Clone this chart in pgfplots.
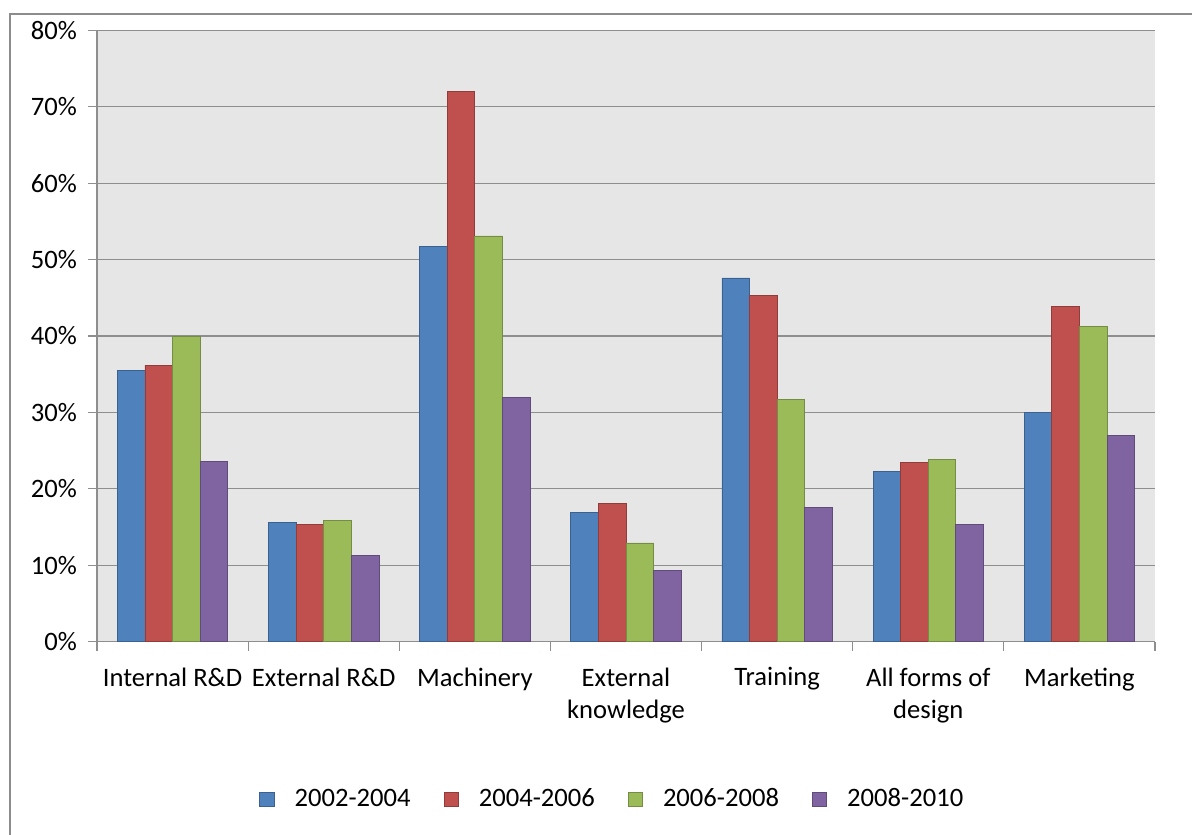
\documentclass[border=0pt]{standalone}
\usepackage{fontspec}
\setmainfont{Carlito}
\usepackage{pgfplots}
\pgfplotsset{compat=1.18}
\definecolor{s1}{HTML}{4F81BD}
\definecolor{s2}{HTML}{C0504D}
\definecolor{s3}{HTML}{9BBB59}
\definecolor{s4}{HTML}{8064A2}
\definecolor{gridgray}{HTML}{8E8E8E}
\definecolor{plotbg}{HTML}{E6E6E6}
\definecolor{framegray}{HTML}{8C8C8C}

\begin{document}
\begin{tikzpicture}
  % 1 px of the reference = 0.5pt
  \useasboundingbox (0pt,0pt) rectangle (596pt,417pt);
  \fill[white] (0pt,0pt) rectangle (596pt,417pt);
  \draw[framegray, line width=1pt] (5pt,-5pt) -- (5pt,410pt) -- (610pt,410pt);
  \begin{axis}[
    at={(48.5pt,96.25pt)}, anchor=south west,
    scale only axis,
    width=529pt, height=305.5pt,
    font=\fontsize{13.3}{16}\selectfont,
    ybar=0pt, bar width=13.8pt,
    xmin=-0.5, xmax=6.5,
    ymin=0, ymax=80,
    ytick={0,10,...,80},
    yticklabel={\pgfmathprintnumber[assume math mode=true]{\tick}\%},
    xtick={0,...,6},
    xticklabels={Internal R\&D, External R\&D, Machinery, {External\\knowledge}, Training, {All forms of\\design}, Marketing},
    xticklabel style={align=center, yshift=-5pt},
    yticklabel style={xshift=-2pt},
    minor xtick={-0.5,0.5,...,6.5},
    major x tick style={draw=none},
    tick align=outside,
    major tick length=4.5pt, minor tick length=4.5pt,
    tick style={gridgray, line width=0.6pt},
    axis x line*=bottom, axis y line*=left,
    axis line style={gridgray, line width=0.6pt, -},
    ymajorgrids, grid style={gridgray, line width=0.6pt},
    axis background/.style={fill=plotbg},
    legend columns=4,
    legend style={at={(0.488,-0.258)}, anchor=center, draw=none, fill=none,
      font=\fontsize{13.3}{16}\selectfont,
      /tikz/every odd column/.append style={column sep=8pt},
      /tikz/every even column/.append style={column sep=14.5pt}},
    legend image code/.code={\draw[#1, line width=0.4pt] (0pt,-3.6pt) rectangle (7.2pt,3.6pt);},
  ]
    \addplot[fill=s1, draw=s1!75!black, line width=0.4pt] coordinates {(0,35.5) (1,15.6) (2,51.7) (3,16.9) (4,47.6) (5,22.3) (6,30.0)};
    \addplot[fill=s2, draw=s2!75!black, line width=0.4pt] coordinates {(0,36.2) (1,15.3) (2,72.0) (3,18.1) (4,45.3) (5,23.5) (6,43.9)};
    \addplot[fill=s3, draw=s3!75!black, line width=0.4pt] coordinates {(0,40.0) (1,15.8) (2,53.1) (3,12.9) (4,31.7) (5,23.8) (6,41.2)};
    \addplot[fill=s4, draw=s4!75!black, line width=0.4pt] coordinates {(0,23.6) (1,11.3) (2,31.9) (3,9.3) (4,17.5) (5,15.3) (6,27.0)};
    \legend{2002-2004, 2004-2006, 2006-2008, 2008-2010}
  \end{axis}
\end{tikzpicture}
\end{document}
